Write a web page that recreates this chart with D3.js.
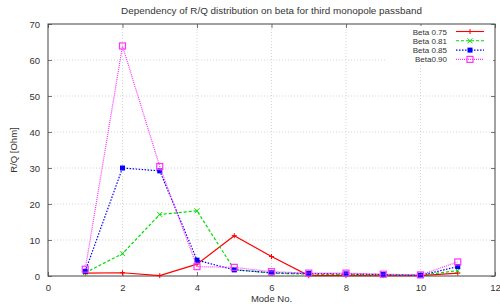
<!DOCTYPE html>
<html>
<head>
<meta charset="utf-8">
<script src="https://cdn.jsdelivr.net/npm/d3@7"></script>
<style>
  body { margin: 0; background: #fff; }
  text { font-family: "Liberation Sans", Arial, sans-serif; fill: #333; }
</style>
</head>
<body>
<div class="chart"></div>
<script>
// R/Q values per mode
const modes = [1, 2, 3, 4, 5, 6, 7, 8, 9, 10, 11];
const beta075 = [0.8, 0.9, 0.1, 3.3, 11.2, 5.4, 0.1, 0.1, 0.1, 0.1, 0.8];
const beta081 = [0.9, 6.2, 17.1, 18.1, 1.8, 0.8, 0.5, 0.4, 0.3, 0.2, 1.5];
const beta085 = [1.3, 30.0, 29.2, 4.4, 1.7, 0.9, 0.7, 0.6, 0.4, 0.2, 2.6];
const beta090 = [1.9, 63.9, 30.4, 2.6, 2.4, 1.2, 0.8, 0.8, 0.5, 0.3, 3.9];
const seriesNames = ["Beta 0.75", "Beta 0.81", "Beta 0.85", "Beta0.90"];
const xTicks = [0, 2, 4, 6, 8, 10, 12];
const yTicks = [0, 10, 20, 30, 40, 50, 60, 70];

const width = 500;
const height = 306;
const margin = {top: 24, right: 5, bottom: 30, left: 48};

const series = [
  {name: seriesNames[0], values: beta075, color: "#ff0000", dash: null, marker: "plus"},
  {name: seriesNames[1], values: beta081, color: "#00dd00", dash: "3,2", marker: "cross"},
  {name: seriesNames[2], values: beta085, color: "#0000ff", dash: "1.5,1.5", marker: "square"},
  {name: seriesNames[3], values: beta090, color: "#ff33ff", dash: "1,1", marker: "box"}
];

const svg = d3.select(".chart").append("svg")
    .attr("width", width)
    .attr("height", height)
    .attr("viewBox", [0, 0, width, height]);

const x = d3.scaleLinear().domain([0, 12]).range([margin.left, width - margin.right]);
const y = d3.scaleLinear().domain([0, 70]).range([height - margin.bottom, margin.top]);

// grid
svg.append("g")
  .selectAll("line.gx")
  .data(xTicks.slice(1, -1))
  .enter().append("line")
    .attr("x1", d => x(d)).attr("x2", d => x(d))
    .attr("y1", y(0)).attr("y2", y(70))
    .attr("stroke", "#bbb").attr("stroke-width", 0.6).attr("stroke-dasharray", "1,2");

svg.append("g")
  .selectAll("line.gy")
  .data(yTicks.slice(1, -1))
  .enter().append("line")
    .attr("x1", x(0)).attr("x2", x(12))
    .attr("y1", d => y(d)).attr("y2", d => y(d))
    .attr("stroke", "#bbb").attr("stroke-width", 0.6).attr("stroke-dasharray", "1,2");

// axes, ticks pointing inward like gnuplot
const tickSize = 4;
svg.append("g")
    .attr("transform", `translate(0,${y(0)})`)
    .call(d3.axisBottom(x).tickValues(xTicks).tickSize(-tickSize).tickPadding(8))
    .call(g => g.select(".domain").remove());
svg.append("g")
    .attr("transform", `translate(0,${y(70)})`)
    .call(d3.axisTop(x).tickValues(xTicks).tickSize(-tickSize).tickFormat(""))
    .call(g => g.select(".domain").remove());
svg.append("g")
    .attr("transform", `translate(${x(0)},0)`)
    .call(d3.axisLeft(y).tickValues(yTicks).tickSize(-tickSize).tickPadding(8))
    .call(g => g.select(".domain").remove());
svg.append("g")
    .attr("transform", `translate(${x(12)},0)`)
    .call(d3.axisRight(y).tickValues(yTicks).tickSize(-tickSize).tickFormat(""))
    .call(g => g.select(".domain").remove());

svg.selectAll(".tick line").attr("stroke", "#555").attr("stroke-width", 0.8);
svg.selectAll(".tick text").style("font-size", "9.5px").style("font-family", "Liberation Sans, Arial, sans-serif").attr("fill", "#444");

svg.append("rect")
    .attr("x", x(0)).attr("y", y(70))
    .attr("width", x(12) - x(0)).attr("height", y(0) - y(70))
    .attr("fill", "none").attr("stroke", "#444").attr("stroke-width", 1);

// legend background
const legX = 456, legY = 31.5;
svg.append("rect")
    .attr("x", 385).attr("y", 26).attr("width", 108).attr("height", 38)
    .attr("fill", "#fff");

function drawMarker(g, type, color, cx, cy) {
  if (type === "plus") {
    g.append("path").attr("d", `M${cx - 2.5},${cy}h5M${cx},${cy - 2.5}v5`)
      .attr("stroke", color).attr("stroke-width", 1).attr("fill", "none");
  } else if (type === "cross") {
    g.append("path").attr("d", `M${cx - 2.5},${cy - 2.5}l5,5M${cx - 2.5},${cy + 2.5}l5,-5`)
      .attr("stroke", color).attr("stroke-width", 1).attr("fill", "none");
  } else if (type === "square") {
    g.append("rect").attr("x", cx - 2.5).attr("y", cy - 2.5).attr("width", 5).attr("height", 5)
      .attr("fill", color);
  } else {
    g.append("rect").attr("x", cx - 3).attr("y", cy - 3).attr("width", 6).attr("height", 6)
      .attr("fill", "none").attr("stroke", color).attr("stroke-width", 1.2);
  }
}

const line = d3.line().x((d, i) => x(modes[i])).y(d => y(d));

series.forEach(s => {
  const g = svg.append("g");
  g.append("path")
    .attr("d", line(s.values))
    .attr("fill", "none")
    .attr("stroke", s.color)
    .attr("stroke-width", 1.2)
    .attr("stroke-dasharray", s.dash);
  s.values.forEach((v, i) => drawMarker(g, s.marker, s.color, x(modes[i]), y(v)));
});

// legend
series.forEach((s, i) => {
  const ly = legY + i * 9.3;
  const g = svg.append("g");
  g.append("text")
    .attr("x", 447).attr("y", ly + 3)
    .attr("text-anchor", "end")
    .style("font-size", "8px")
    .attr("fill", "#222")
    .text(s.name);
  g.append("line")
    .attr("x1", legX).attr("x2", 484).attr("y1", ly).attr("y2", ly)
    .attr("stroke", s.color).attr("stroke-width", 1.1)
    .attr("stroke-dasharray", s.dash);
  drawMarker(g, s.marker, s.color, 470, ly);
});

// title and labels
svg.append("text")
    .attr("x", (x(0) + x(12)) / 2).attr("y", 14)
    .attr("text-anchor", "middle")
    .style("font-size", "9.9px")
    .text("Dependency of R/Q distribution on beta for third monopole passband");

svg.append("text")
    .attr("x", (x(0) + x(12)) / 2).attr("y", 302)
    .attr("text-anchor", "middle")
    .style("font-size", "9.5px")
    .text("Mode No.");

svg.append("text")
    .attr("transform", `translate(17,${(y(0) + y(70)) / 2}) rotate(-90)`)
    .attr("text-anchor", "middle")
    .style("font-size", "9.5px")
    .text("R/Q [Ohm]");
</script>
</body>
</html>
